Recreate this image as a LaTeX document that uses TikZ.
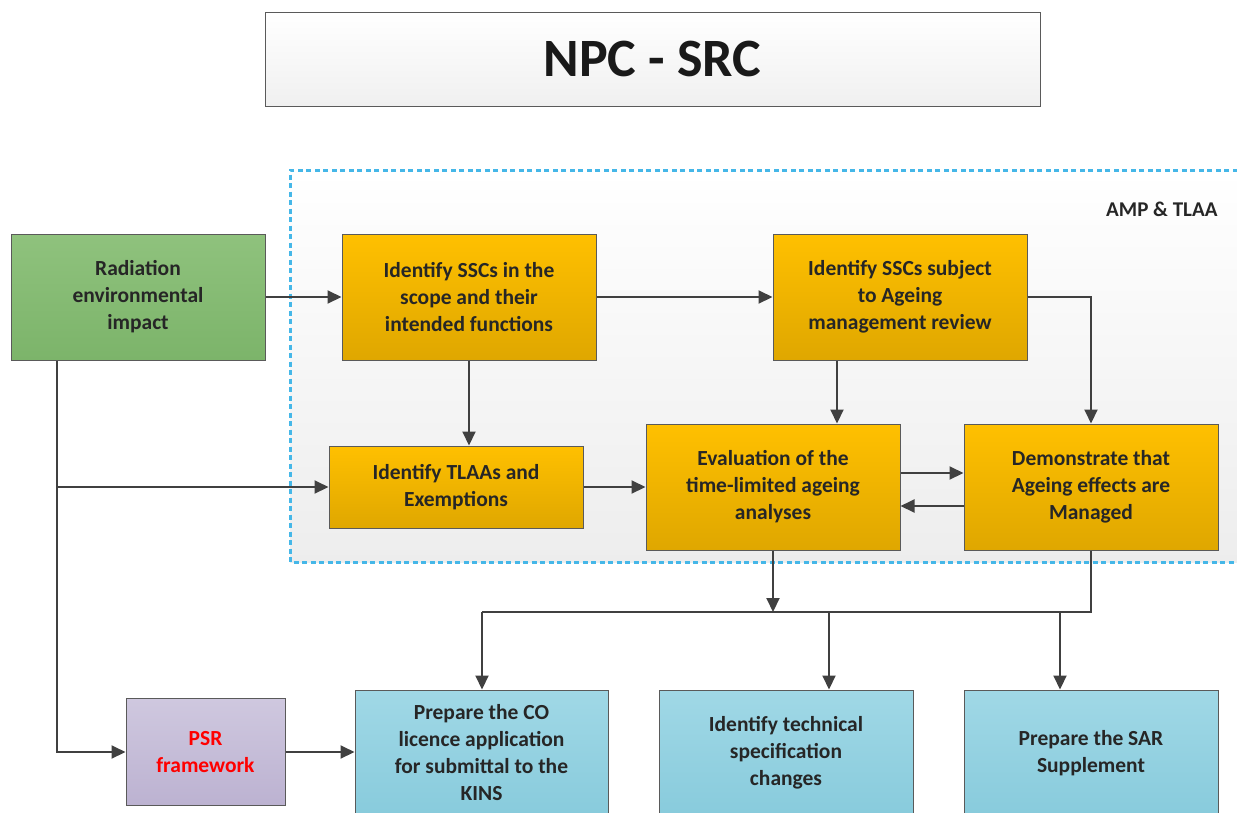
\documentclass[tikz,border=0pt]{standalone}
\usepackage{fontspec}
\setmainfont{Carlito}
\usetikzlibrary{arrows.meta}

\definecolor{wire}{HTML}{404040}
\definecolor{edge}{HTML}{5A5A5A}
\definecolor{ink}{HTML}{262626}
\definecolor{orTop}{HTML}{FFC000}
\definecolor{orBot}{HTML}{DFA700}
\definecolor{grTop}{HTML}{8FC27D}
\definecolor{grBot}{HTML}{7CB46A}
\definecolor{puTop}{HTML}{CFC8DF}
\definecolor{puBot}{HTML}{BCB2D1}
\definecolor{cyTop}{HTML}{A0D8E6}
\definecolor{cyBot}{HTML}{88CBDC}
\definecolor{dashblue}{HTML}{45B7E8}

\begin{document}
\begin{tikzpicture}[x=1pt,y=-1pt,
  box/.style={draw=edge, line width=1pt, align=center, inner sep=0pt,
    text=ink, font=\bfseries\fontsize{21.5}{27}\selectfont},
  orangebox/.style={box, top color=orTop, bottom color=orBot},
  greenbox/.style={box, top color=grTop, bottom color=grBot},
  purplebox/.style={box, top color=puTop, bottom color=puBot},
  cyanbox/.style={box, top color=cyTop, bottom color=cyBot},
  link/.style={draw=wire, line width=2pt, -{Triangle[length=14pt,width=13pt]}},
  plain/.style={draw=wire, line width=2pt}]

% page
\useasboundingbox (0,0) rectangle (1237,812);
\fill[white] (0,0) rectangle (1237,812);

% title
\node[draw=edge, line width=1pt, top color=white, bottom color=black!6,
  minimum width=775pt, minimum height=94pt, inner sep=0pt,
  font=\bfseries\fontsize{54}{60}\selectfont, text=black!90] (title) at (652.5,59) {NPC - SRC};

% AMP & TLAA group frame
\shade[top color=white, bottom color=black!7] (290,170) rectangle (1246,562);
\draw[dashblue, line width=3pt, dash pattern=on 5pt off 3.5pt] (1246,170) -- (290,170) -- (290,562) -- (1246,562);
\node[font=\bfseries\fontsize{21}{25}\selectfont, text=ink, anchor=east] (grp) at (1221,209) {AMP \& TLAA};

% process boxes
\node[greenbox, minimum width=254pt, minimum height=126pt] (rad) at (138,297)
  {Radiation\\environmental\\impact};
\node[orangebox, minimum width=254pt, minimum height=126pt] (scope) at (469,297)
  {Identify SSCs in the\\scope and their\\intended functions};
\node[orangebox, minimum width=254pt, minimum height=126pt] (amr) at (900,297)
  {Identify SSCs subject\\to Ageing\\management review};
\node[orangebox, minimum width=254pt, minimum height=82pt] (tlaa) at (456,487)
  {Identify TLAAs and\\Exemptions};
\node[orangebox, minimum width=254pt, minimum height=126pt] (eval) at (773,487)
  {Evaluation of the\\time-limited ageing\\analyses};
\node[orangebox, minimum width=254pt, minimum height=126pt] (demo) at (1091,487)
  {Demonstrate that\\Ageing effects are\\Managed};

% outputs
\node[purplebox, minimum width=159pt, minimum height=107pt, text=red] (psr) at (205.5,752)
  {PSR\\framework};
\node[cyanbox, minimum width=253pt, minimum height=126pt] (co) at (481.5,753)
  {Prepare the CO\\licence application\\for submittal to the\\KINS};
\node[cyanbox, minimum width=254pt, minimum height=126pt] (tech) at (786,753)
  {Identify technical\\specification\\changes};
\node[cyanbox, minimum width=254pt, minimum height=126pt] (sar) at (1091,753)
  {Prepare the SAR\\Supplement};

% junction points
\coordinate (spine) at (57,487);
\coordinate (busE) at (1091,612);
\coordinate (busW) at (482,612);
\coordinate (busT) at (829,612);
\coordinate (busS) at (1060,612);
\coordinate (busV) at (773,612);

% connectors
\draw[link] (rad.east) -- (scope.west);
\draw[link] (scope.east) -- (amr.west);
\draw[link] (scope.south) -- (scope.south |- tlaa.north);
\draw[link] ([xshift=-63pt]amr.south) -- ([xshift=-63pt]amr.south |- eval.north);
\draw[link] (amr.east) -- (1091,297) -- (demo.north);
\draw[link] (rad.south -| spine) -- (spine |- psr.west) -- (psr.west);
\draw[link] (spine) -- (tlaa.west);
\draw[link] (tlaa.east |- eval.west) -- (eval.west);
\draw[link] ([yshift=14pt]eval.east) -- ([yshift=14pt]demo.west);
\draw[link] ([yshift=-19pt]demo.west) -- ([yshift=-19pt]eval.east);
\draw[link] (eval.south) -- (busV);
\draw[plain] (demo.south) -- (busE) -- (busW);
\draw[link] (busW) -- (busW |- co.north);
\draw[link] (busT) -- (busT |- tech.north);
\draw[link] (busS) -- (busS |- sar.north);
\draw[link] (psr.east) -- (psr.east -| co.west);
\end{tikzpicture}
\end{document}
